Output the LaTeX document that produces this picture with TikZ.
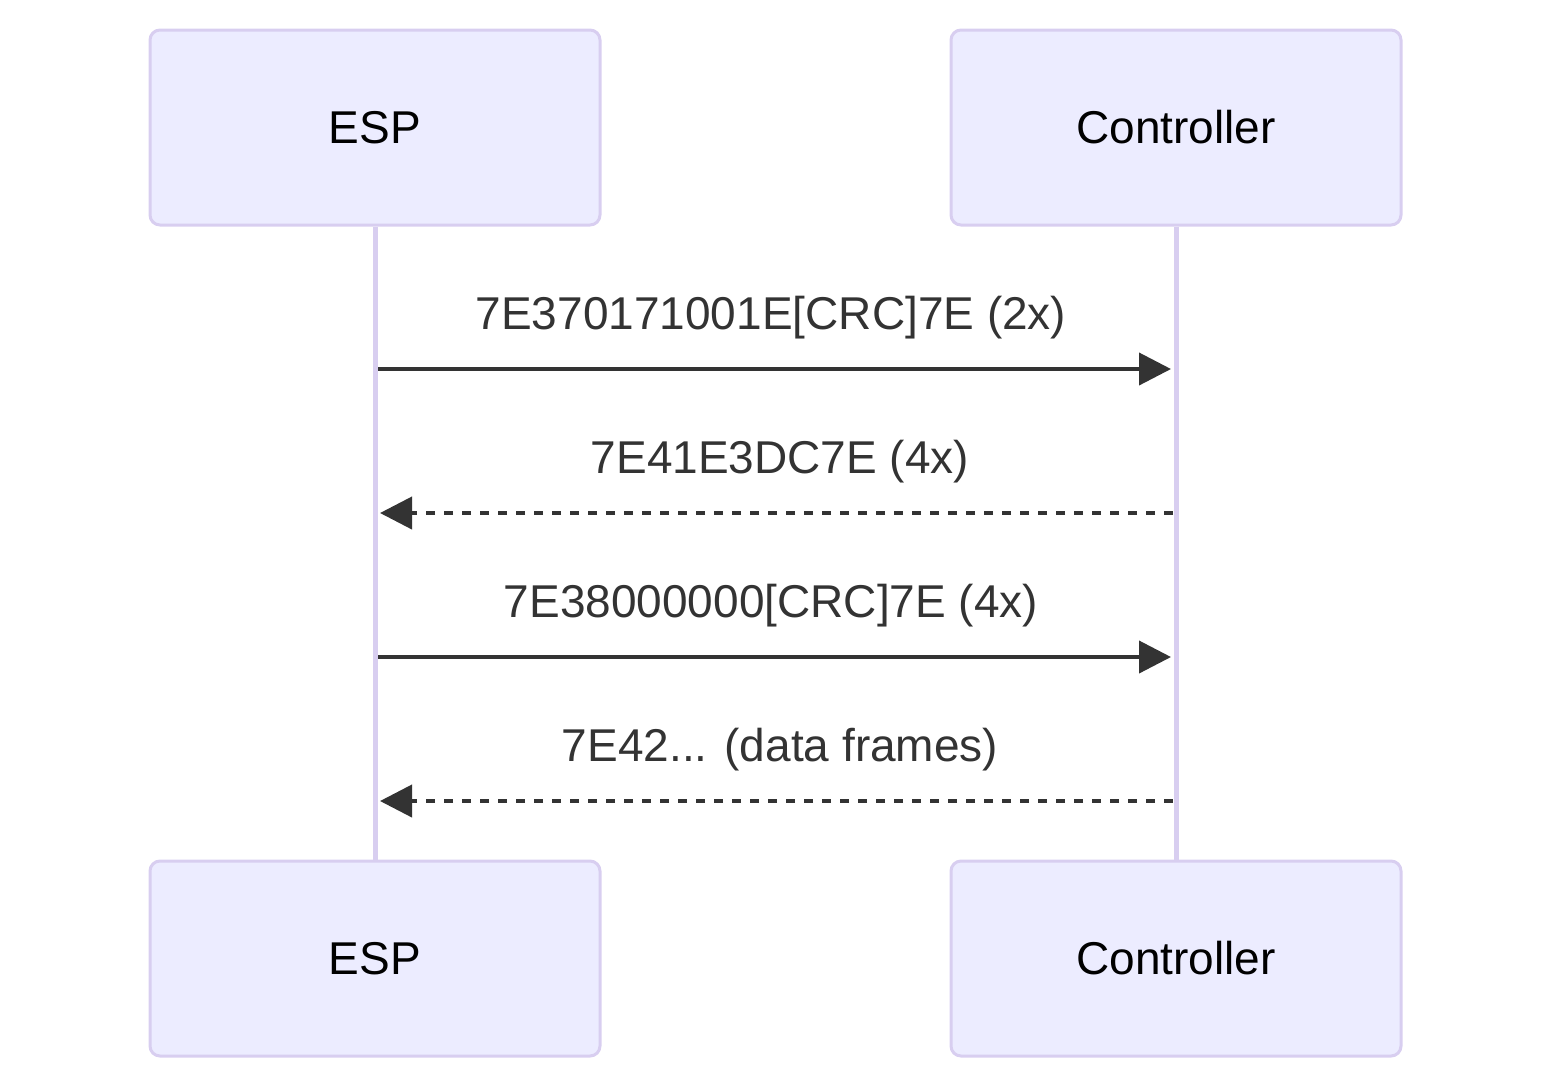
\documentclass[tikz,border=0pt]{standalone}
\usepackage{fontspec}
\setmainfont{Liberation Sans}
\usepackage{xcolor}
\usepackage{tikz}
\usetikzlibrary{arrows.meta,positioning}
\definecolor{ActorFill}{HTML}{ECECFF}
\definecolor{ActorLine}{HTML}{D8CEF0}
\definecolor{MsgLine}{HTML}{333333}

\begin{document}
\begin{tikzpicture}[
  x=0.5pt,y=-0.5pt,
  node distance=316.5pt and 174pt,
  actor/.style={draw=ActorLine,line width=1.5pt,rounded corners=5pt,fill=ActorFill,minimum width=225pt,minimum height=97.5pt,align=center,font=\fontsize{23}{28}\selectfont,inner sep=0pt},
  life/.style={draw=ActorLine,line width=2.5pt},
  msg/.style={-{Triangle[length=16pt,width=16pt]},line width=2pt,draw=MsgLine,shorten >=2.5pt,shorten <=1.5pt},
  reply/.style={msg,dash pattern=on 4.5pt off 4.5pt},
  lbl/.style={text=MsgLine,font=\fontsize{23}{28}\selectfont,inner sep=0pt,anchor=base}
]
\useasboundingbox (0,0) rectangle (1551,1089);
\node[actor] (espTop) at (375,127.5) {ESP};
\node[actor,right=of espTop] (ctrlTop) {Controller};
\node[actor,below=of espTop] (espBot) {ESP};
\node[actor,below=of ctrlTop] (ctrlBot) {Controller};
\draw[life] (espTop.south)--(espBot.north);
\draw[life] (ctrlTop.south)--(ctrlBot.north);
% message rows
\coordinate (e1) at (espTop.south |- 0,369);
\coordinate (c1) at (ctrlTop.south |- 0,369);
\coordinate (e2) at (espTop.south |- 0,513);
\coordinate (c2) at (ctrlTop.south |- 0,513);
\coordinate (e3) at (espTop.south |- 0,657);
\coordinate (c3) at (ctrlTop.south |- 0,657);
\coordinate (e4) at (espTop.south |- 0,801);
\coordinate (c4) at (ctrlTop.south |- 0,801);
\draw[msg] (e1)--(c1);
\draw[reply] (c2)--(e2);
\draw[msg] (e3)--(c3);
\draw[reply] (c4)--(e4);
\node[lbl] (l1) at (771,329) {7E370171001E[CRC]7E (2x)};
\node[lbl] (l2) at (780,473) {7E41E3DC7E (4x)};
\node[lbl] (l3) at (771,617) {7E38000000[CRC]7E (4x)};
\node[lbl] (l4) at (780,761) {7E42... (data frames)};
\end{tikzpicture}
\end{document}
